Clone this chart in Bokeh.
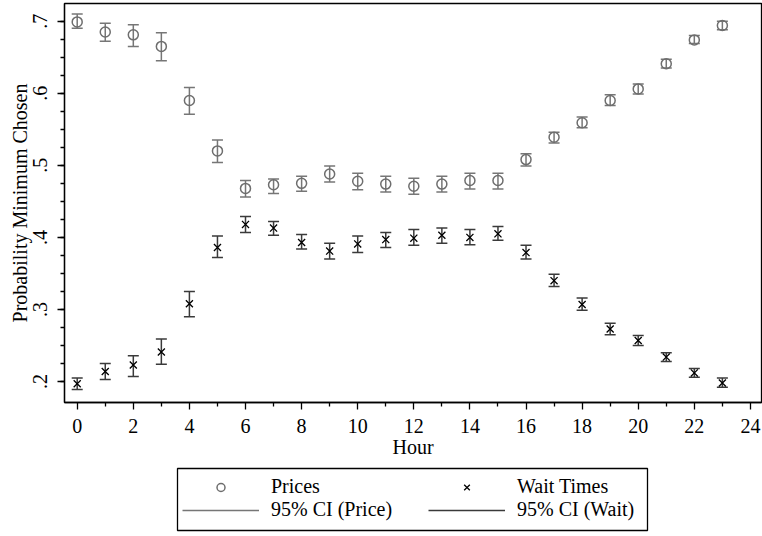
from bokeh.plotting import figure
from bokeh.layouts import column
from bokeh.models import (ColumnDataSource, FixedTicker, CustomJSTickFormatter,
                          Legend, LegendItem, Range1d, BoxAnnotation)
from bokeh.embed import file_html
from bokeh.resources import INLINE

# ---------------- data ----------------
hours = list(range(24))
price_mean = [0.699, 0.685, 0.681, 0.665, 0.590, 0.520, 0.468, 0.473, 0.475, 0.488, 0.478, 0.474,
              0.471, 0.474, 0.479, 0.479, 0.508, 0.539, 0.559, 0.590, 0.606, 0.641, 0.674, 0.694]
price_lo = [0.690, 0.672, 0.665, 0.645, 0.571, 0.504, 0.456, 0.461, 0.464, 0.477, 0.466, 0.463,
            0.460, 0.463, 0.467, 0.467, 0.499, 0.531, 0.552, 0.583, 0.599, 0.635, 0.669, 0.688]
price_hi = [0.710, 0.697, 0.695, 0.684, 0.608, 0.535, 0.479, 0.481, 0.485, 0.499, 0.489, 0.485,
            0.482, 0.485, 0.489, 0.489, 0.516, 0.546, 0.567, 0.598, 0.613, 0.647, 0.680, 0.700]
wait_mean = [0.197, 0.214, 0.223, 0.241, 0.308, 0.386, 0.418, 0.413, 0.393, 0.381, 0.391, 0.397,
             0.399, 0.403, 0.400, 0.405, 0.379, 0.340, 0.307, 0.273, 0.257, 0.234, 0.212, 0.198]
wait_lo = [0.189, 0.203, 0.207, 0.224, 0.290, 0.372, 0.407, 0.403, 0.384, 0.370, 0.379, 0.386,
           0.389, 0.392, 0.390, 0.396, 0.370, 0.332, 0.299, 0.265, 0.250, 0.228, 0.206, 0.192]
wait_hi = [0.205, 0.225, 0.236, 0.259, 0.325, 0.402, 0.429, 0.422, 0.404, 0.392, 0.402, 0.407,
           0.411, 0.413, 0.411, 0.415, 0.389, 0.349, 0.316, 0.281, 0.264, 0.240, 0.218, 0.205]

x_major_ticks = [0, 2, 4, 6, 8, 10, 12, 14, 16, 18, 20, 22, 24]
x_minor_ticks = [1, 3, 5, 7, 9, 11, 13, 15, 17, 19, 21, 23]
y_major_ticks = [0.2, 0.3, 0.4, 0.5, 0.6, 0.7]
y_minor_ticks = [0.2 + 0.025 * i for i in range(21)]

x_title = "Hour"
y_title = "Probability Minimum Chosen"
labels = ["Prices", "95% CI (Price)", "Wait Times", "95% CI (Wait)"]

# ---------------- styles ----------------
FONT = "Liberation Serif"
PRICE_COLOR = "#6e6e6e"
PRICE_CI_COLOR = "#767676"
WAIT_COLOR = "#000000"
WAIT_CI_COLOR = "#3a3a3a"
W, H_MAIN, H_LEG = 762, 462, 74
BORDER_L, BORDER_R = 64, 1
LEG_BOX = dict(left=177, right=647, top=468, bottom=530)   # page pixels
LEG_POS = (118, 15)                                         # legend offset in strip frame


def draw_series(fig, src, ci_color, mark, mark_color, mark_size, mark_width, visible=True):
    ci = fig.segment(x0="hour", y0="lo", x1="hour", y1="hi", source=src,
                     line_color=ci_color, line_width=1.5, visible=visible)
    fig.scatter("hour", "lo", source=src, marker="dash", size=11,
                line_color=ci_color, line_width=1.5, visible=visible)
    fig.scatter("hour", "hi", source=src, marker="dash", size=11,
                line_color=ci_color, line_width=1.5, visible=visible)
    pt = fig.scatter("hour", "mean", source=src, marker=mark, size=mark_size,
                     fill_color=None, line_color=mark_color, line_width=mark_width,
                     visible=visible)
    return pt, ci


src_p = ColumnDataSource(dict(hour=hours, mean=price_mean, lo=price_lo, hi=price_hi))
src_w = ColumnDataSource(dict(hour=hours, mean=wait_mean, lo=wait_lo, hi=wait_hi))

# ---------------- main plot ----------------
p = figure(width=W, height=H_MAIN, output_backend="svg", toolbar_location=None,
           x_range=Range1d(-0.453, 24.395), y_range=Range1d(0.171, 0.7245),
           min_border_left=BORDER_L, min_border_right=BORDER_R,
           min_border_top=3, min_border_bottom=60)
p.xgrid.visible = False
p.ygrid.visible = False
p.outline_line_color = "black"
p.outline_line_width = 1.3
p.background_fill_color = "white"
p.border_fill_color = "white"

draw_series(p, src_p, PRICE_CI_COLOR, "circle", PRICE_COLOR, 10, 1.5)
draw_series(p, src_w, WAIT_CI_COLOR, "x", WAIT_COLOR, 10, 1.3)

for ax in (p.xaxis[0], p.yaxis[0]):
    ax.axis_line_color = "black"
    ax.axis_line_width = 1.3
    ax.major_tick_line_color = "black"
    ax.minor_tick_line_color = "black"
    ax.major_tick_line_width = 1.3
    ax.minor_tick_line_width = 1.3
    ax.major_tick_in = 0
    ax.major_tick_out = 7
    ax.minor_tick_in = 0
    ax.minor_tick_out = 4
    ax.major_label_text_font = FONT
    ax.major_label_text_font_size = "20px"
    ax.major_label_text_color = "black"
    ax.axis_label_text_font = FONT
    ax.axis_label_text_font_size = "20px"
    ax.axis_label_text_font_style = "normal"
    ax.axis_label_text_color = "black"

p.xaxis.ticker = FixedTicker(ticks=x_major_ticks, minor_ticks=x_minor_ticks)
p.xaxis.axis_label = x_title
p.xaxis.major_label_standoff = 9
p.xaxis.axis_label_standoff = 0

p.yaxis.ticker = FixedTicker(ticks=y_major_ticks, minor_ticks=y_minor_ticks)
p.yaxis.formatter = CustomJSTickFormatter(code="return tick.toFixed(1).replace(/^0/, '');")
p.yaxis.major_label_orientation = "vertical"
p.yaxis.axis_label = y_title
p.yaxis.major_label_standoff = 10
p.yaxis.axis_label_standoff = 0

# ---------------- legend strip (pixel-mapped ranges) ----------------
lg = figure(width=W, height=H_LEG, output_backend="svg", toolbar_location=None,
            x_axis_location=None, y_axis_location=None,
            x_range=Range1d(BORDER_L, W - BORDER_R), y_range=Range1d(H_MAIN + H_LEG, H_MAIN),
            min_border_left=BORDER_L, min_border_right=BORDER_R,
            min_border_top=0, min_border_bottom=0)
lg.grid.visible = False
lg.outline_line_color = None
lg.background_fill_color = "white"
lg.border_fill_color = "white"

lp_pt, lp_ci = draw_series(lg, src_p, PRICE_CI_COLOR, "circle", PRICE_COLOR, 10, 1.5, visible=False)
lw_pt, lw_ci = draw_series(lg, src_w, WAIT_CI_COLOR, "x", WAIT_COLOR, 10, 1.3, visible=False)

lg.add_layout(BoxAnnotation(fill_color=None, fill_alpha=0, line_color="black",
                            line_alpha=1.0, line_width=1.3, **LEG_BOX))

legend = Legend(items=[LegendItem(label=labels[0], renderers=[lp_pt]),
                       LegendItem(label=labels[1], renderers=[lp_ci]),
                       LegendItem(label=labels[2], renderers=[lw_pt]),
                       LegendItem(label=labels[3], renderers=[lw_ci])],
                orientation="vertical", nrows=2, location=LEG_POS,
                glyph_width=77, glyph_height=20, label_standoff=12, label_height=20,
                label_width=157, padding=8, spacing=0, margin=0, click_policy="none",
                border_line_color=None, background_fill_alpha=0.0,
                label_text_font=FONT, label_text_font_size="20px", label_text_color="black")
try:
    legend.spacing = -2
except Exception:
    legend.spacing = 0
lg.add_layout(legend)

layout = column(p, lg, spacing=0)
open("out.html", "w").write(file_html(layout, INLINE))
